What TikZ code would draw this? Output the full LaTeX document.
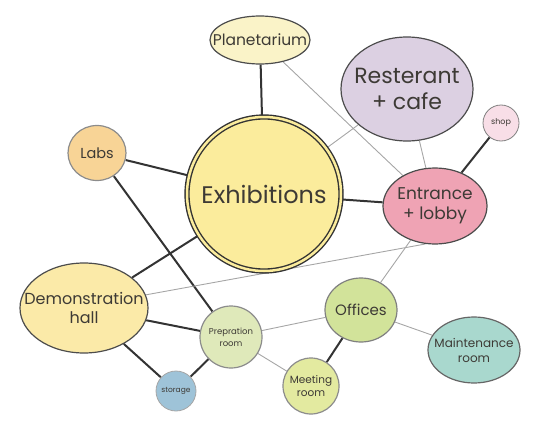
\documentclass[tikz,border=0pt]{standalone}
\usepackage{fontspec}
\setmainfont{Poppins}
\usetikzlibrary{shapes.geometric,backgrounds}

\definecolor{inkgray}{HTML}{3D3A35}
\definecolor{planfill}{HTML}{FAF3C8}
\definecolor{restfill}{HTML}{DCD0E2}
\definecolor{shopfill}{HTML}{F8DEE7}
\definecolor{entrfill}{HTML}{EFA3B4}
\definecolor{exhifill}{HTML}{FBEC9C}
\definecolor{labsfill}{HTML}{F8D496}
\definecolor{demofill}{HTML}{FBEAA8}
\definecolor{prepfill}{HTML}{DFE9BA}
\definecolor{storfill}{HTML}{9EC3D8}
\definecolor{offifill}{HTML}{D2E39A}
\definecolor{meetfill}{HTML}{E3EAA0}
\definecolor{mainfill}{HTML}{A9D8CE}

\begin{document}
\begin{tikzpicture}[x=1pt,y=-1pt,
    bubble/.style={ellipse, draw=black!70, line width=1.2pt, inner sep=0pt},
    txt/.style={text=inkgray, align=center, inner sep=0pt},
    strong/.style={black!80, line width=2pt},
    faint/.style={gray!70, line width=0.9pt}]
    \useasboundingbox (0,0) rectangle (538,428);

    % rooms
    \node[bubble, fill=planfill, minimum width=100pt, minimum height=48pt,
        label={[txt, font=\fontsize{15.5}{17}\selectfont]center:Planetarium}] (plan) at (260,40) {};
    \node[bubble, fill=restfill, minimum width=132pt, minimum height=104pt,
        label={[txt, font=\fontsize{22}{26}\selectfont]center:Resterant\\+ cafe}] (rest) at (407,89) {};
    \node[bubble, fill=shopfill, draw=black!50, line width=0.8pt, minimum size=36pt,
        label={[txt, font=\fontsize{8}{9}\selectfont]center:shop}] (shop) at (501,123) {};
    \node[bubble, fill=entrfill, minimum width=104pt, minimum height=76pt,
        label={[txt, font=\fontsize{17}{20}\selectfont]center:Entrance\\+ lobby}] (entr) at (435,206) {};
    \node[bubble, fill=exhifill, draw=black!80, line width=1.4pt, double=exhifill,
        double distance=2.5pt, minimum size=154pt,
        label={[txt, font=\fontsize{24}{28}\selectfont]center:Exhibitions}] (exhi) at (264,194) {};
    \node[bubble, fill=labsfill, draw=black!45, minimum width=58pt, minimum height=55pt,
        label={[txt, font=\fontsize{14.5}{16}\selectfont]center:Labs}] (labs) at (97,153) {};
    \node[bubble, fill=demofill, minimum width=128pt, minimum height=90pt,
        label={[txt, font=\fontsize{16}{19}\selectfont]center:Demonstration\\hall}] (demo) at (84,308) {};
    \node[bubble, fill=prepfill, draw=black!45, minimum size=62pt,
        label={[txt, font=\fontsize{8.5}{12}\selectfont]center:Prepration\\room}] (prep) at (231,337) {};
    \node[bubble, fill=storfill, draw=black!35, line width=0.8pt, minimum size=40pt,
        label={[txt, font=\fontsize{7.5}{9}\selectfont]center:storage}] (stor) at (176,391) {};
    \node[bubble, fill=offifill, draw=black!50, minimum width=72pt, minimum height=64pt,
        label={[txt, font=\fontsize{15}{18}\selectfont]center:Offices}] (offi) at (361,310) {};
    \node[bubble, fill=mainfill, draw=black!60, minimum width=92pt, minimum height=66pt,
        label={[txt, font=\fontsize{12}{15}\selectfont]center:Maintenance\\room}] (main) at (474,350) {};
    \node[bubble, fill=meetfill, draw=black!45, minimum size=56pt,
        label={[txt, font=\fontsize{10.5}{13}\selectfont]center:Meeting\\room}] (meet) at (311,386) {};

    % links
    \begin{scope}[on background layer]
        \draw[strong] (plan) -- (exhi);
        \draw[strong] (labs) -- (exhi);
        \draw[strong] (labs) -- (prep);
        \draw[strong] (demo) -- (exhi);
        \draw[strong] (exhi) -- (entr);
        \draw[strong] (demo) -- (prep);
        \draw[strong] (demo) -- (stor);
        \draw[strong] (stor) -- (prep);
        \draw[strong] (offi) -- (meet);
        \draw[strong] (shop) -- (entr);

        \draw[faint] (exhi) -- (rest);
        \draw[faint] (plan) -- (entr);
        \draw[faint] (rest) -- (entr);
        \draw[faint] (entr.256) -- (demo.12);
        \draw[faint] (entr) -- (offi);
        \draw[faint] (offi) -- (prep);
        \draw[faint] (offi) -- (main);
        \draw[faint] (prep) -- (meet);
    \end{scope}
\end{tikzpicture}
\end{document}
